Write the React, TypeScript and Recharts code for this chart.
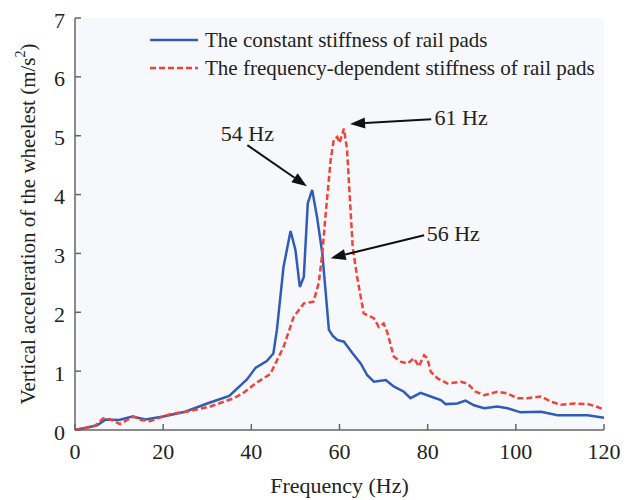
import React from "react";
import { CartesianGrid, Legend, Line, LineChart, ReferenceDot, ReferenceLine, XAxis, YAxis } from "recharts";

const FONT = "'Liberation Serif', 'Times New Roman', serif";
const BLUE = "#2e5cb8";
const RED = "#ef4438";
const AXIS = "#666";

// constant stiffness (solid blue)
const freqConstant = [
    0, 2, 5, 7, 10, 13, 16, 20, 25, 30, 35, 39, 41, 43.5, 45, 45.8, 47.3, 48.9, 50, 51, 51.9, 52.8, 53.8, 54.9, 56.1,
    57.6, 58.5, 59.5, 61, 63, 64.8, 66.3, 67.8, 70.5, 72.3, 74.6, 76.1, 78.4, 80.7, 83, 84.1, 86.7, 88.6, 90.5, 92.8,
    95.8, 98.1, 101.1, 105.7, 109.5, 116.3, 120,
];
const accConstant = [
    0, 0.03, 0.08, 0.18, 0.17, 0.23, 0.18, 0.23, 0.31, 0.45, 0.58, 0.86, 1.06, 1.17, 1.3, 1.7, 2.77, 3.38, 3.06, 2.43,
    2.6, 3.85, 4.08, 3.62, 3.0, 1.7, 1.6, 1.53, 1.5, 1.3, 1.13, 0.93, 0.82, 0.85, 0.74, 0.65, 0.54, 0.63, 0.57, 0.51,
    0.44, 0.45, 0.5, 0.42, 0.37, 0.4, 0.37, 0.3, 0.31, 0.25, 0.25, 0.21,
];

// frequency-dependent stiffness (dashed red)
const freqDependent = [
    0, 2, 4.5, 6.4, 8, 10.2, 13.3, 15, 17, 21.6, 26, 30.7, 36, 38, 41.3, 44.3, 47.3, 49.6, 51.9, 54.1, 55.3, 56.1, 56.8,
    58, 58.7, 59.5, 60, 61, 61.7, 62.3, 63, 64, 65.5, 67.8, 68.9, 70, 70.8, 72.3, 73.9, 75.4, 76.9, 78, 79.2, 79.9, 80.7,
    82.2, 84.5, 87.5, 89, 90.9, 92.8, 95.8, 98.1, 100.4, 102.7, 105.7, 108, 110.2, 113.3, 116.3, 118.2, 120,
];
const accDependent = [
    0, 0.03, 0.07, 0.2, 0.18, 0.1, 0.23, 0.17, 0.15, 0.27, 0.32, 0.4, 0.54, 0.62, 0.81, 0.95, 1.41, 1.92, 2.15, 2.18,
    2.5, 3.0, 3.62, 4.59, 4.93, 4.98, 4.88, 5.12, 4.78, 4.0, 3.1, 2.6, 1.98, 1.9, 1.75, 1.81, 1.67, 1.25, 1.16, 1.13,
    1.22, 1.08, 1.27, 1.22, 0.99, 0.88, 0.79, 0.82, 0.79, 0.65, 0.59, 0.65, 0.62, 0.54, 0.54, 0.57, 0.48, 0.43, 0.45,
    0.44, 0.4, 0.35,
];

const xTicks = [0, 20, 40, 60, 80, 100, 120];
const yTicks = [0, 1, 2, 3, 4, 5, 6, 7];

const seriesNames = ["The constant stiffness of rail pads", "The frequency-dependent stiffness of rail pads"];

// peak callouts: label position and arrow from -> to, in data units
const callouts = [
    { text: "54 Hz", tx: 39.1, ty: 5.05, from: [39.1, 4.84], to: [52.6, 4.14] },
    { text: "61 Hz", tx: 87.6, ty: 5.32, from: [80.8, 5.28], to: [62.4, 5.2] },
    { text: "56 Hz", tx: 85.8, ty: 3.35, from: [79.2, 3.31], to: [58.0, 2.92] },
];

const constantData = freqConstant.map((x, i) => ({ x, y: accConstant[i] }));
const dependentData = freqDependent.map((x, i) => ({ x, y: accDependent[i] }));

function XTick({ x, y, payload }: any) {
    return (
        <g>
            <line x1={x} x2={x} y1={y} y2={y - 6} stroke={AXIS} strokeWidth={1.5} />
            <text x={x} y={y + 21} textAnchor="middle" dominantBaseline="central" fontSize={22} fontFamily={FONT} fill="#222">
                {payload.value}
            </text>
        </g>
    );
}

function YTick({ x, y, payload }: any) {
    return (
        <g>
            <line x1={x} x2={x + 6} y1={y} y2={y} stroke={AXIS} strokeWidth={1.5} />
            <text x={x - 10} y={y + 2} textAnchor="end" dominantBaseline="central" fontSize={22} fontFamily={FONT} fill="#222">
                {payload.value}
            </text>
        </g>
    );
}

function XTitle({ viewBox }: any) {
    return (
        <text x={viewBox.x + viewBox.width / 2} y={viewBox.y + 55} textAnchor="middle" dominantBaseline="central" fontSize={22} fontFamily={FONT} fill="#222">
            Frequency (Hz)
        </text>
    );
}

function YTitle({ viewBox }: any) {
    const cx = viewBox.x + 13;
    const cy = viewBox.y + viewBox.height / 2;
    return (
        <text x={cx} y={cy} transform={`rotate(-90 ${cx} ${cy})`} textAnchor="middle" dominantBaseline="central" fontSize={21} fontFamily={FONT} fill="#222">
            Vertical acceleration of the wheelest (m/s
            <tspan dy={-8} fontSize={14}>2</tspan>
            <tspan dy={8}>)</tspan>
        </text>
    );
}

function Arrow({ x1, y1, x2, y2 }: any) {
    const ang = Math.atan2(y2 - y1, x2 - x1);
    const len = 15;
    const half = 5.5;
    const bx = x2 - len * Math.cos(ang);
    const by = y2 - len * Math.sin(ang);
    const px = -Math.sin(ang) * half;
    const py = Math.cos(ang) * half;
    return (
        <g>
            <line x1={x1} y1={y1} x2={bx} y2={by} stroke="#111" strokeWidth={2} />
            <polygon points={`${x2},${y2} ${bx + px},${by + py} ${bx - px},${by - py}`} fill="#111" />
        </g>
    );
}

function LegendBox() {
    const rows = [
        { name: seriesNames[0], color: BLUE, dash: undefined },
        { name: seriesNames[1], color: RED, dash: "6 3" },
    ];
    return (
        <div style={{ fontFamily: FONT, fontSize: 21, color: "#222" }}>
            {rows.map((r) => (
                <div key={r.name} style={{ height: 28, display: "flex", alignItems: "center", whiteSpace: "nowrap" }}>
                    <svg width={55} height={10}>
                        <line x1={0} x2={48} y1={5} y2={5} stroke={r.color} strokeWidth={2.5} strokeDasharray={r.dash} />
                    </svg>
                    <span>{r.name}</span>
                </div>
            ))}
        </div>
    );
}

export default function App() {
    return (
        <LineChart width={622} height={492} margin={{ top: 10, right: 26, left: 7, bottom: 8 }}>
            <CartesianGrid horizontal={false} vertical={false} fill="#f7f8fc" />
            <XAxis
                type="number"
                dataKey="x"
                domain={[0, 120]}
                ticks={xTicks}
                height={62}
                tickSize={0}
                tickMargin={0}
                tick={<XTick />}
                stroke={AXIS}
                strokeWidth={1.5}
                label={<XTitle />}
                allowDuplicatedCategory={false}
            />
            <YAxis
                type="number"
                domain={[0, 7]}
                ticks={yTicks}
                width={60}
                tickSize={0}
                tickMargin={0}
                tick={<YTick />}
                stroke={AXIS}
                strokeWidth={1.5}
                label={<YTitle />}
            />
            <Legend layout="vertical" align="center" verticalAlign="middle" wrapperStyle={{ top: 18, left: 142, width: "auto" }} content={<LegendBox />} />
            <Line data={constantData} dataKey="y" name={seriesNames[0]} type="linear" stroke={BLUE} strokeWidth={2.5} dot={false} isAnimationActive={false} />
            <Line data={dependentData} dataKey="y" name={seriesNames[1]} type="linear" stroke={RED} strokeWidth={2.5} strokeDasharray="6 3" dot={false} isAnimationActive={false} />
            {callouts.map((c) => (
                <ReferenceLine
                    key={c.text + "-arrow"}
                    segment={[
                        { x: c.from[0], y: c.from[1] },
                        { x: c.to[0], y: c.to[1] },
                    ]}
                    shape={(p: any) => <Arrow {...p} />}
                />
            ))}
            {callouts.map((c) => (
                <ReferenceDot
                    key={c.text}
                    x={c.tx}
                    y={c.ty}
                    r={1}
                    fill="none"
                    stroke="none"
                    label={{ value: c.text, position: "center", fontSize: 22, fontFamily: FONT, fill: "#222" }}
                />
            ))}
        </LineChart>
    );
}
